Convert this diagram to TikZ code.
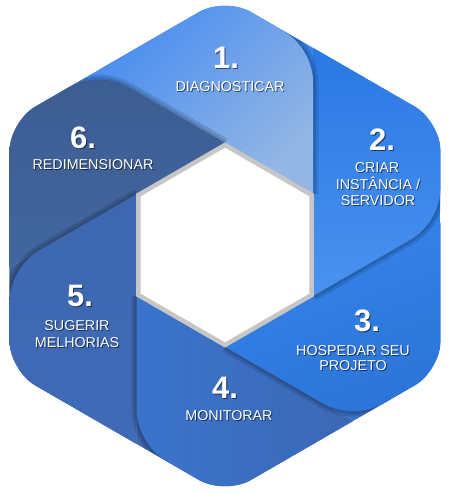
\documentclass[tikz,border=0pt]{standalone}
\usepackage{fontspec}
\setmainfont{Liberation Sans}
\usetikzlibrary{calc}
\definecolor{solid1}{HTML}{4C8FEF}
\definecolor{solid2}{HTML}{3584EA}
\definecolor{solid3}{HTML}{317DE4}
\definecolor{solid4}{HTML}{3A71C8}
\definecolor{solid5}{HTML}{3E67B0}
\definecolor{solid6}{HTML}{3E6098}
\definecolor{innerborder}{HTML}{C6C6C6}
\definecolor{s1top}{HTML}{4A8EF0}
\definecolor{s1bot}{HTML}{94B6E4}
\definecolor{s2top}{HTML}{2B78E4}
\definecolor{s2bot}{HTML}{4A92EF}
\definecolor{s3top}{HTML}{3684EA}
\definecolor{s3bot}{HTML}{2C74D8}
\definecolor{s4top}{HTML}{3A74CC}
\definecolor{s4bot}{HTML}{3C68B4}
\definecolor{s5top}{HTML}{3E67B0}
\definecolor{s5bot}{HTML}{3F6AB6}
\definecolor{s6top}{HTML}{3D5D92}
\definecolor{s6bot}{HTML}{41669F}
\tikzset{
  seg1/.style={top color=s1top,bottom color=s1bot,shading angle=45},
  seg2/.style={top color=s2top,bottom color=s2bot},
  seg3/.style={top color=s3top,bottom color=s3bot,shading angle=20},
  seg4/.style={left color=s4top,right color=s4bot},
  seg5/.style={top color=s5top,bottom color=s5bot},
  seg6/.style={top color=s6top,bottom color=s6bot},
  lbl/.style={text=white,font=\fontsize{14.3}{16}\selectfont,inner sep=0pt,anchor=base},
  lblsh/.style={lbl,text=black,opacity=0.55},
  num/.style={lbl,font=\fontsize{31}{34}\selectfont\bfseries},
  numsh/.style={num,text=black,opacity=0.55},
}
\newcommand\twolbl[5]{%
  \node[#2sh] (#1-sh) at (#3+1,#4+1) {#5};
  \node[#2] (#1) at (#3,#4) {#5};}
\begin{document}
\begin{tikzpicture}[x=1pt,y=-1pt]
\useasboundingbox (0,0) rectangle (450,493);
\coordinate (O1) at (225,-3);
\coordinate (O2) at (440.6,121.5);
\coordinate (O3) at (440.6,370.5);
\coordinate (O4) at (225,495);
\coordinate (O5) at (9.4,370.5);
\coordinate (O6) at (9.4,121.5);
\coordinate (V1) at (225,143);
\coordinate (V2) at (313.3,194);
\coordinate (V3) at (313.3,296);
\coordinate (V4) at (225,347);
\coordinate (V5) at (136.7,296);
\coordinate (V6) at (136.7,194);
\coordinate (P61) at (98.6,70);
\coordinate (P12) at (313.3,48);
\coordinate (P23) at (440.6,222.5);
\coordinate (P34) at (353.1,421);
\coordinate (P45) at (136.7,444);
\coordinate (P56) at (9.4,267.5);
\foreach \P/\O/\V/\n in {P12/O1/V2/1,P23/O2/V3/2,P34/O3/V4/3,P45/O4/V5/4,P56/O5/V6/5,P61/O6/V1/6}{
  \coordinate (Ta\n) at ($(\P)!36pt!(\O)$);
  \coordinate (Tb\n) at ($(\P)!36pt!(\V)$);
  \coordinate (Ca\n) at ($(Ta\n)!0.62!(\P)$);
  \coordinate (Cb\n) at ($(Tb\n)!0.62!(\P)$);
}
\begin{scope}
\clip[rounded corners=30pt] ($(O1)!0.5!(O2)$) -- (O2) -- (O3) -- (O4) -- (O5) -- (O6) -- (O1) -- cycle;
% base: every region in its successor's colour
\foreach \Vk/\Pp/\Ok/\Pk/\Vn/\kn in {V1/P61/O1/P12/V2/2,V2/P12/O2/P23/V3/3,V3/P23/O3/P34/V4/4,V4/P34/O4/P45/V5/5,V5/P45/O5/P56/V6/6,V6/P56/O6/P61/V1/1}{
  \fill[solid\kn] (\Vk) -- (\Pp) -- (\Ok) -- (\Pk) -- (\Vn) -- cycle;
}
% segments with their rounded leading corner
\foreach \k/\Vk/\Pp/\Ok/\Vn in {1/V1/P61/O1/V2,2/V2/P12/O2/V3,3/V3/P23/O3/V4,4/V4/P34/O4/V5,5/V5/P45/O5/V6,6/V6/P56/O6/V1}{
  \shade[seg\k] (\Vk) -- (\Pp) -- (\Ok) -- (Ta\k) .. controls (Ca\k) and (Cb\k) .. (Tb\k) -- (\Vn) -- cycle;
}
% shadows cast by each segment onto the next one
\foreach \k/\Pk/\Vn/\On/\Pn/\Vnn in {1/P12/V2/O2/P23/V3,2/P23/V3/O3/P34/V4,3/P34/V4/O4/P45/V5,4/P45/V5/O5/P56/V6,5/P56/V6/O6/P61/V1,6/P61/V1/O1/P12/V2}{
  \begin{scope}
    \clip (\Vn) -- (\Pk) -- (\On) -- (\Pn) -- (\Vnn) -- cycle
          (Ta\k) -- (\Pk) -- (Tb\k) .. controls (Cb\k) and (Ca\k) .. (Ta\k) -- cycle;
    \draw[black,opacity=0.12,line width=10pt] (\Vn) -- (Tb\k) .. controls (Cb\k) and (Ca\k) .. (Ta\k);
    \draw[black,opacity=0.12,line width=5pt] (\Vn) -- (Tb\k) .. controls (Cb\k) and (Ca\k) .. (Ta\k);
  \end{scope}
}
\end{scope}
% inner hexagon
\fill[white,draw=innerborder,line width=4.5pt,line join=miter]
  (225,145) -- (311.6,195) -- (311.6,295) -- (225,345) -- (138.4,295) -- (138.4,195) -- cycle;
% labels
\twolbl{n1}{num}{226}{68}{1.}
\twolbl{t1}{lbl}{230}{91}{DIAGNOSTICAR}
\twolbl{n2}{num}{382}{150}{2.}
\twolbl{t2a}{lbl}{377}{172}{CRIAR}
\twolbl{t2b}{lbl}{378}{189}{INSTÂNCIA /}
\twolbl{t2c}{lbl}{378}{205}{SERVIDOR}
\twolbl{n3}{num}{367}{331}{3.}
\twolbl{t3a}{lbl}{353}{355}{HOSPEDAR SEU}
\twolbl{t3b}{lbl}{353}{370}{PROJETO}
\twolbl{n4}{num}{225}{398}{4.}
\twolbl{t4}{lbl}{229}{420}{MONITORAR}
\twolbl{n5}{num}{80}{306}{5.}
\twolbl{t5a}{lbl}{77}{330}{SUGERIR}
\twolbl{t5b}{lbl}{77}{347}{MELHORIAS}
\twolbl{n6}{num}{83}{148}{6.}
\twolbl{t6}{lbl}{93}{169}{REDIMENSIONAR}
\end{tikzpicture}
\end{document}
